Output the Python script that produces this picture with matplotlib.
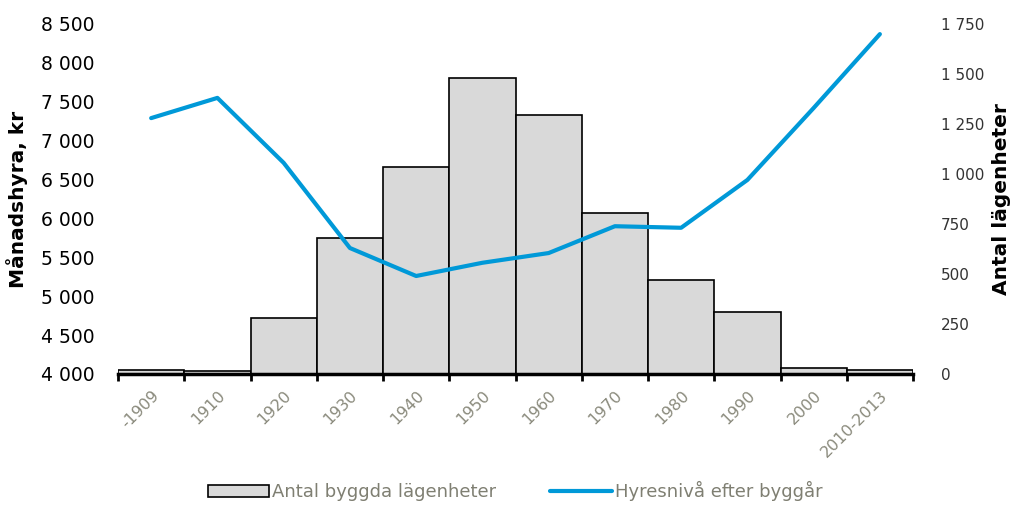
import numpy as np
import matplotlib
matplotlib.use("Agg")
from matplotlib import pyplot as plt

# data
periods = ["-1909", "1910", "1920", "1930", "1940", "1950", "1960",
           "1970", "1980", "1990", "2000", "2010-2013"]
antal = [20, 15, 280, 680, 1035, 1480, 1295, 805, 470, 310, 30, 20]
hyra = [7290, 7550, 6715, 5620, 5260, 5430, 5555, 5900, 5880, 6495, 7420, 8370]

plt.rcParams['font.family'] = ['DejaVu Sans']
gray_txt = "#7f7f72"
blue = "#0099d8"

fig = plt.figure(figsize=(10.14, 5.15), dpi=100)
ax = fig.add_axes([0.1164, 0.2738, 0.784, 0.6796])
ax2 = ax.twinx()

x = np.arange(len(periods))

# bars on right axis
ax2.bar(x, antal, width=1.0, color="#d9d9d9", edgecolor="black", linewidth=1.2,
        label="Antal byggda lägenheter")
ax2.set_ylim(0, 1750)
ax2.set_yticks(np.arange(0, 1751, 250))
ax2.set_yticklabels([f"{v:,}".replace(",", " ") for v in range(0, 1751, 250)])

# line on left axis, drawn above the bars
ax.set_zorder(ax2.get_zorder() + 1)
ax.patch.set_visible(False)
ln, = ax.plot(x, hyra, color=blue, linewidth=3.0, solid_capstyle="round",
              label="Hyresnivå efter byggår")
ax.set_ylim(4000, 8500)
ax.set_yticks(np.arange(4000, 8501, 500))
ax.set_yticklabels([f"{v:,}".replace(",", " ") for v in range(4000, 8501, 500)])

ax.set_xlim(-0.5, len(periods) - 0.5)
ax.set_xticks(np.arange(-0.5, len(periods)))
ax.set_xticklabels([])
ax.set_xticks(x, minor=True)
ax.set_xticklabels(periods, minor=True, rotation=45, ha="right",
                   rotation_mode="anchor", color="#8a8a7c", fontsize=11.5)
ax.tick_params(axis="x", which="major", direction="out", length=5, width=2,
               color="black")
ax.tick_params(axis="x", which="minor", length=0, pad=10)

for a in (ax, ax2):
    for s in a.spines.values():
        s.set_visible(False)
ax.spines["bottom"].set_visible(True)
ax.spines["bottom"].set_linewidth(2.5)
ax.spines["bottom"].set_zorder(0)

ax.tick_params(axis="y", length=0, labelsize=13.5, pad=17)
ax2.tick_params(axis="y", length=0, labelsize=11, pad=20, labelcolor="#333333")

ax.set_ylabel("Månadshyra, kr", fontsize=14.5, fontweight="bold", labelpad=9)
ax2.set_ylabel("Antal lägenheter", fontsize=14.5, fontweight="bold", labelpad=6)

handles = [ax2.patches[0], ln]
labels = ["Antal byggda lägenheter", "Hyresnivå efter byggår"]
leg = fig.legend(handles, labels, loc="lower center", bbox_to_anchor=(0.508, -0.005),
                 ncol=2, frameon=False, fontsize=13, handlelength=3.4,
                 handleheight=0.6, handletextpad=0.15, columnspacing=3.0,
                 labelcolor=gray_txt)

fig.savefig("out.png", dpi=100)
